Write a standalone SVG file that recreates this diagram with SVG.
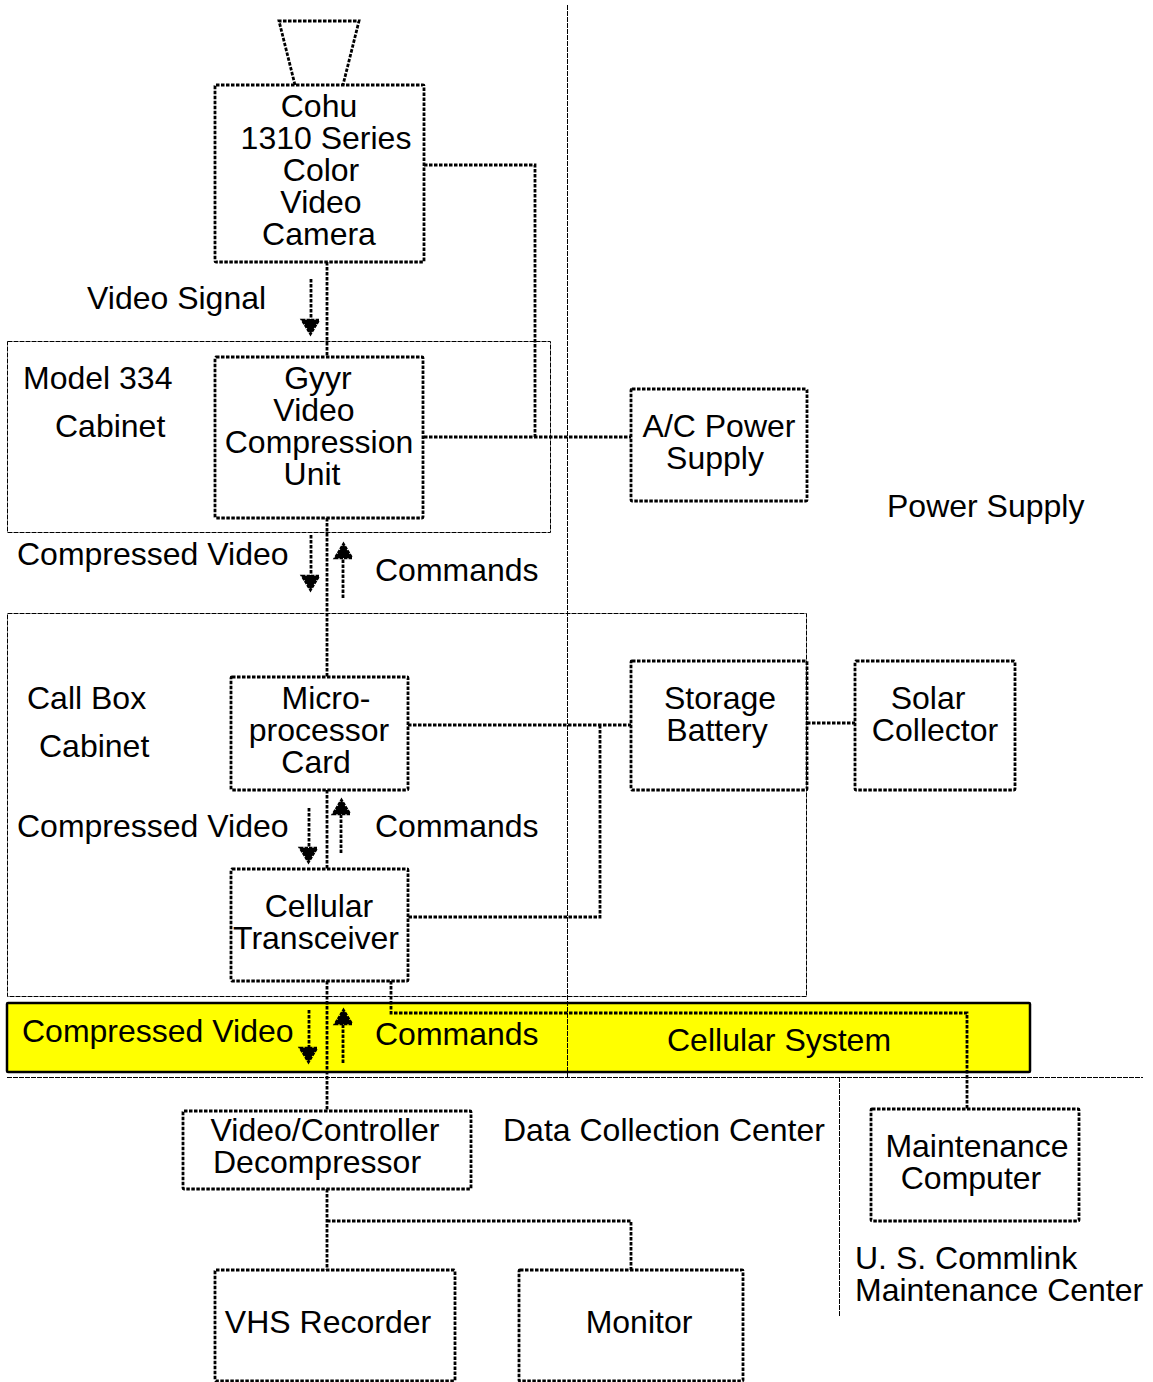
<svg xmlns="http://www.w3.org/2000/svg" width="1153" height="1382" viewBox="0 0 1153 1382">
<style>
text{font-family:"Liberation Sans",Arial,sans-serif;font-size:32px;fill:#000}
.m{text-anchor:middle}
.b{fill:none;stroke:#000;stroke-width:2.800;stroke-dasharray:3.500 1.500}
.thin{fill:none;stroke:#000;stroke-width:1;stroke-dasharray:5 1}
.h{fill:#000;stroke:#000;stroke-width:2.500;stroke-dasharray:3.500 1}
</style>
<rect width="1153" height="1382" fill="#fff"/>
<g id="regions">
<rect x="7.500" y="341.500" width="543" height="191" class="thin"/>
<rect x="7.500" y="613.500" width="799" height="383" class="thin"/>
<rect id="cellular-band" x="7" y="1003" width="1023" height="69" rx="1" fill="#ff0" stroke="#000" stroke-width="2.500"/>
<path d="M567.500 5V1077M7 1077.500H1143M839.500 1077V1317" class="thin"/>
</g>
<g id="connectors">
<path class="b" d="M327 262V357M327 518V677M327 790V869M327 981V1111M327 1189V1270M327 1221H631V1270M424 165H535V437M424 437H631M408 725H631M600 725V917H408M807 723H855M391 981V1013H967V1109"/>
<path class="b" d="M311 279V320M343 598V556M311 535V576M309 808V848M341 853V812M309 1010V1048M343 1063V1022"/>
<path class="h" d="M302 320H319L310.500 334ZM335 558H352L343.500 544ZM302 576H319L310.500 590ZM333 814H350L341.500 800ZM300 848H317L308.500 862ZM335 1024H352L343.500 1010ZM300 1048H317L308.500 1062Z"/>
</g>
<g id="camera-lens"><path class="b" d="M295 85L279 21H359L343 85"/></g>
<g id="camera"><rect class="b" x="215" y="85" width="209" height="177" rx="1"/>
<text class="m" x="319" y="117">Cohu</text><text class="m" x="326" y="149">1310 Series</text><text class="m" x="321" y="181">Color</text><text class="m" x="321" y="213">Video</text><text class="m" x="319" y="245">Camera</text></g>
<g id="gyyr"><rect class="b" x="215" y="357" width="208" height="161" rx="1"/>
<text class="m" x="318" y="389">Gyyr</text><text class="m" x="314" y="421">Video</text><text class="m" x="319" y="453">Compression</text><text class="m" x="312" y="485">Unit</text></g>
<g id="ac-power"><rect class="b" x="631" y="389" width="176" height="112" rx="1"/>
<text class="m" x="719" y="437">A/C Power</text><text class="m" x="715" y="469">Supply</text></g>
<g id="microprocessor"><rect class="b" x="231" y="677" width="177" height="113" rx="1"/>
<text class="m" x="326" y="709">Micro-</text><text class="m" x="319" y="741">processor</text><text class="m" x="316" y="773">Card</text></g>
<g id="battery"><rect class="b" x="631" y="661" width="176" height="129" rx="1"/>
<text class="m" x="720" y="709">Storage</text><text class="m" x="717" y="741">Battery</text></g>
<g id="solar"><rect class="b" x="855" y="661" width="160" height="129" rx="1"/>
<text class="m" x="928" y="709">Solar</text><text class="m" x="935" y="741">Collector</text></g>
<g id="transceiver"><rect class="b" x="231" y="869" width="177" height="112" rx="1"/>
<text class="m" x="319" y="917">Cellular</text><text class="m" x="316" y="949">Transceiver</text></g>
<g id="decompressor"><rect class="b" x="183" y="1111" width="288" height="78" rx="1"/>
<text class="m" x="325" y="1141">Video/Controller</text><text class="m" x="317" y="1173">Decompressor</text></g>
<g id="maintenance"><rect class="b" x="871" y="1109" width="208" height="112" rx="1"/>
<text class="m" x="977" y="1157">Maintenance</text><text class="m" x="971" y="1189">Computer</text></g>
<g id="vhs"><rect class="b" x="215" y="1270" width="240" height="111" rx="1"/>
<text class="m" x="328" y="1333">VHS Recorder</text></g>
<g id="monitor"><rect class="b" x="519" y="1270" width="224" height="111" rx="1"/>
<text class="m" x="639" y="1333">Monitor</text></g>
<g id="labels">
<text x="87" y="309">Video Signal</text>
<text x="23" y="389">Model 334</text><text x="55" y="437">Cabinet</text>
<text x="17" y="565">Compressed Video</text><text x="375" y="581">Commands</text>
<text x="887" y="517">Power Supply</text>
<text x="27" y="709">Call Box</text><text x="39" y="757">Cabinet</text>
<text x="17" y="837">Compressed Video</text><text x="375" y="837">Commands</text>
<text x="22" y="1042">Compressed Video</text><text x="375" y="1045">Commands</text>
<text x="667" y="1051">Cellular System</text>
<text x="503" y="1141">Data Collection Center</text>
<text x="855" y="1269">U. S. Commlink</text><text x="855" y="1301">Maintenance Center</text>
</g>
</svg>
